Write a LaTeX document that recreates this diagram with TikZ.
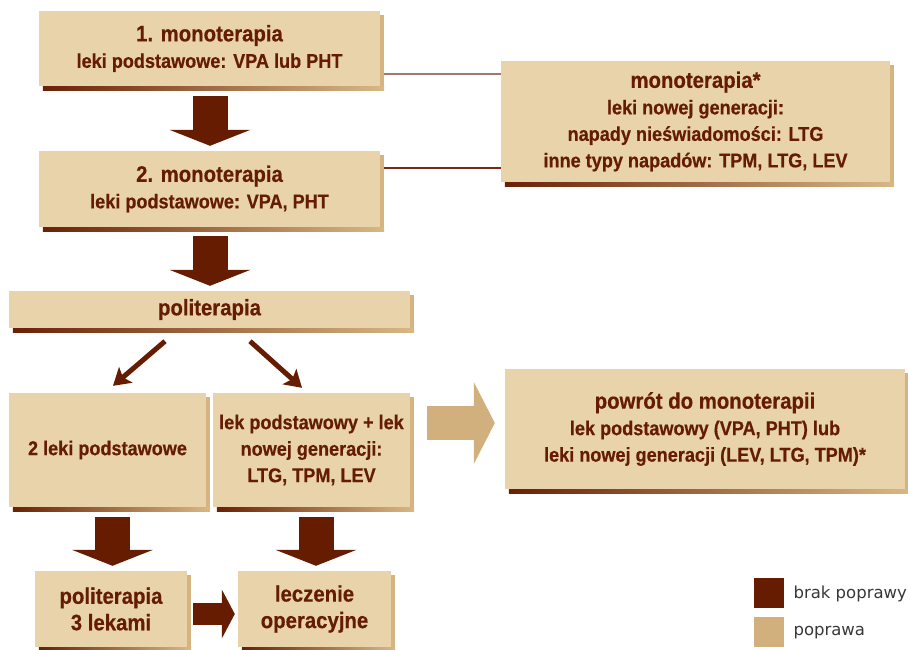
\documentclass[tikz,border=0pt]{standalone}
\usepackage{fontspec}
\setmainfont{Liberation Sans}
\newfontfamily\condf[FakeStretch=0.905,FakeBold=0.4]{Liberation Sans}
\newfontfamily\legf{DejaVu Sans}
\usetikzlibrary{arrows.meta,calc}
\definecolor{boxc}{RGB}{232,211,171}
\definecolor{txtc}{RGB}{100,28,4}
\definecolor{arrc}{RGB}{102,28,0}
\definecolor{lightc}{RGB}{210,176,126}
\definecolor{shr}{RGB}{214,180,127}
\definecolor{shd}{RGB}{106,32,5}
\definecolor{shl}{RGB}{216,184,133}
\definecolor{linea}{RGB}{160,122,106}
\definecolor{lineb}{RGB}{122,42,16}
\definecolor{legt}{RGB}{55,55,55}
\newcommand\hd[1]{{\fontsize{22.5}{26.5}\selectfont #1}}
\tikzset{
  box/.style={fill=boxc, inner sep=0pt, align=center, text=txtc,
    font=\condf\bfseries\fontsize{20}{26.5}\selectfont},
  bigarr/.style={draw=arrc, line width=35pt, -{Triangle[width=81pt,length=16pt,line width=0pt]}},
  midarr/.style={draw=arrc, line width=22pt, -{Triangle[width=49pt,length=13pt,line width=0pt]}},
  lightarr/.style={draw=lightc, line width=34pt, -{Triangle[width=82pt,length=21pt,line width=0pt]}},
  diagarr/.style={draw=arrc, line width=5pt, -{Stealth[width=21pt,length=17pt,inset=4pt,line width=0pt]}},
  legbox/.style={minimum width=30pt, minimum height=30pt, inner sep=0pt},
  legtext/.style={anchor=base west, text=legt, font=\legf\fontsize{16.5}{20}\selectfont}
}
\begin{document}
\begin{tikzpicture}[x=1pt,y=-1pt]
\useasboundingbox (0,0) rectangle (908,649);
% boxes
\node[box, minimum width=341pt, minimum height=75pt] (b1) at (209.5,48.5)
  {\hd{1. monoterapia}\\leki podstawowe: VPA lub PHT};
\node[box, minimum width=341pt, minimum height=76pt] (b2) at (209.5,189)
  {\hd{2. monoterapia}\\leki podstawowe: VPA, PHT};
\node[box, minimum width=401pt, minimum height=37pt] (poli) at (209.5,309.5)
  {\hd{politerapia}};
\node[box, minimum width=389pt, minimum height=121pt] (mono) at (695.5,121.5)
  {\hd{monoterapia*}\\leki nowej generacji:\\napady nieświadomości: LTG\\inne typy napadów: TPM, LTG, LEV};
\node[box, minimum width=197pt, minimum height=114pt] (two) at (107.5,450)
  {2 leki podstawowe};
\node[box, minimum width=197pt, minimum height=114pt] (lekp) at (311.5,450)
  {lek podstawowy + lek\\nowej generacji:\\LTG, TPM, LEV};
\node[box, minimum width=400pt, minimum height=120pt] (powrot) at (705,429)
  {\hd{powrót do monoterapii}\\lek podstawowy (VPA, PHT) lub\\leki nowej generacji (LEV, LTG, TPM)*};
\node[box, minimum width=152pt, minimum height=76pt] (p3) at (111,609)
  {\hd{politerapia}\\\hd{3 lekami}};
\node[box, minimum width=153pt, minimum height=76pt] (lecz) at (314.5,609)
  {\hd{leczenie}\\\hd{operacyjne}};
% shadows
\foreach \n in {b1,b2,poli,mono,two,lekp,powrot,p3,lecz}{
  \fill[shr] ($(\n.north east)+(0,4)$) rectangle ($(\n.south east)+(4,4)$);
  \shade[left color=shd, right color=shl] ($(\n.south west)+(4,0)$) rectangle ($(\n.south east)+(4,4)$);
}
% connector lines
\draw[linea, line width=1.2pt] ($(b1.east)+(4,25.5)$) -- ($(mono.west)+(0,-47.5)$);
\draw[lineb, line width=1.2pt] ($(b2.east)+(4,-21)$) -- ($(mono.west)+(0,46.5)$);
% arrows
\draw[bigarr] ($(b1.south)+(0.5,10)$) -- ($(b2.north)+(0.5,-5)$);
\draw[bigarr] ($(b2.south)+(0.5,9)$) -- ($(poli.north)+(0.5,-5)$);
\draw[diagarr] ($(poli.south)+(-44.5,13)$) -- ($(two.north)+(5.5,-7)$);
\draw[diagarr] ($(poli.south)+(40.5,13)$) -- ($(lekp.north)+(-9.5,-5)$);
\draw[lightarr] ($(lekp.east)+(17,-27)$) -- ($(powrot.west)+(-10,-6)$);
\draw[bigarr] ($(p3.north |- two.south)+(1.5,10)$) -- ($(p3.north)+(1.5,-5)$);
\draw[bigarr] ($(lecz.north |- lekp.south)+(1.5,10)$) -- ($(lecz.north)+(1.5,-5)$);
\draw[midarr] ($(p3.east)+(6,5)$) -- ($(lecz.west)+(-3,5)$);
% legend
\node[legbox, fill=arrc] (lg1) at (769,593) {};
\node[legbox, fill=lightc] (lg2) at (769,631.5) {};
\node[legtext] (lg1t) at (790,598) {brak poprawy};
\node[legtext] (lg2t) at (790,635) {poprawa};
\end{tikzpicture}
\end{document}
